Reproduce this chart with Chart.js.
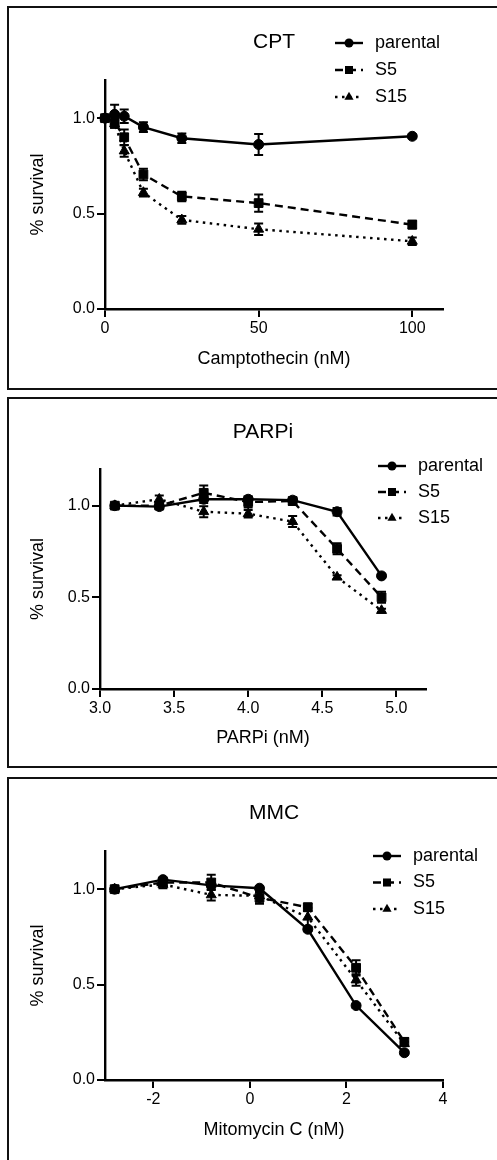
<!DOCTYPE html>
<html>
<head>
<meta charset="utf-8">
<title>Survival curves</title>
<script src="https://cdn.jsdelivr.net/npm/chart.js@4.4.1/dist/chart.umd.min.js"></script>
<style>
    html, body { margin: 0; padding: 0; background: #fff; overflow: hidden; }
    body { width: 497px; height: 1160px; position: relative; }
    .box { position: absolute; left: 7px; width: 530px; border: 2px solid #111; box-sizing: border-box; }
    canvas { position: absolute; left: 0; }
</style>
</head>
<body>
<div class="box" style="top:6px;height:384px"></div>
<div class="box" style="top:397px;height:371px"></div>
<div class="box" style="top:777px;height:420px"></div>
<canvas id="cpt" style="top:0" width="497" height="390"></canvas>
<canvas id="parp" style="top:390px" width="497" height="380"></canvas>
<canvas id="mmc" style="top:770px" width="497" height="390"></canvas>
<script>
var seriesNames = ["parental", "S5", "S15"];
var survivalTicks = [0, 0.5, 1.0];

// CPT
var cptDose = [0, 3.125, 6.25, 12.5, 25, 50, 100];
var cptParental = [1.00, 1.02, 1.01, 0.953, 0.895, 0.862, 0.905];
var cptS5 = [1.00, 0.98, 0.90, 0.705, 0.59, 0.555, 0.442];
var cptS15 = [1.00, 0.97, 0.828, 0.61, 0.467, 0.418, 0.355];
var cptParentalErr = [0, 0.05, 0.035, 0.025, 0.025, 0.055, 0.01];
var cptS5Err = [0, 0.03, 0.04, 0.03, 0.025, 0.045, 0.02];
var cptS15Err = [0, 0.02, 0.03, 0.02, 0.02, 0.03, 0.02];
var cptXTicks = [0, 50, 100];

// PARPi
var parpDose = [3.1, 3.4, 3.7, 4.0, 4.3, 4.6, 4.9];
var parpParental = [1.00, 0.995, 1.035, 1.035, 1.03, 0.967, 0.617];
var parpS5 = [1.00, 1.00, 1.07, 1.02, 1.025, 0.765, 0.50];
var parpS15 = [1.00, 1.035, 0.967, 0.956, 0.913, 0.61, 0.428];
var parpParentalErr = [0, 0.01, 0.02, 0.015, 0.01, 0.02, 0.01];
var parpS5Err = [0, 0.01, 0.04, 0.03, 0.02, 0.03, 0.03];
var parpS15Err = [0, 0.02, 0.03, 0.02, 0.03, 0.01, 0.01];
var parpXTicks = [3.0, 3.5, 4.0, 4.5, 5.0];

// MMC
var mmcDose = [-2.8, -1.8, -0.8, 0.2, 1.2, 2.2, 3.2];
var mmcParental = [1.00, 1.05, 1.02, 1.005, 0.79, 0.39, 0.143];
var mmcS5 = [1.00, 1.035, 1.035, 0.955, 0.905, 0.588, 0.20];
var mmcS15 = [1.00, 1.025, 0.97, 0.965, 0.853, 0.524, 0.19];
var mmcParentalErr = [0, 0.01, 0.01, 0.01, 0.01, 0.01, 0.01];
var mmcS5Err = [0, 0.02, 0.04, 0.03, 0.02, 0.04, 0.02];
var mmcS15Err = [0, 0.02, 0.03, 0.04, 0.05, 0.03, 0.01];
var mmcXTicks = [-2, 0, 2, 4];

Chart.defaults.font.family = "'Liberation Sans', Arial, Helvetica, sans-serif";
Chart.defaults.color = "#000";

var errorBarPlugin = {
    id: "errorBars",
    afterDatasetsDraw: function (chart) {
        var ctx = chart.ctx;
        var xs = chart.scales.x, ys = chart.scales.y;
        chart.data.datasets.forEach(function (ds) {
            if (!ds.err) return;
            ctx.save();
            ctx.strokeStyle = "#000";
            ctx.lineWidth = 2;
            ds.data.forEach(function (pt, j) {
                var e = ds.err[j];
                if (!e) return;
                var px = xs.getPixelForValue(pt.x);
                var top = ys.getPixelForValue(pt.y + e);
                var bot = ys.getPixelForValue(pt.y - e);
                ctx.beginPath();
                ctx.moveTo(px, top); ctx.lineTo(px, bot);
                ctx.moveTo(px - 4.5, top); ctx.lineTo(px + 4.5, top);
                ctx.moveTo(px - 4.5, bot); ctx.lineTo(px + 4.5, bot);
                ctx.stroke();
            });
            ctx.restore();
        });
    }
};

// legend with line + marker samples, like the prism ones
var keyPlugin = {
    id: "key",
    afterDraw: function (chart, args, opts) {
        var ctx = chart.ctx;
        chart.data.datasets.forEach(function (ds, i) {
            var y = opts.y + i * opts.gap;
            ctx.save();
            ctx.strokeStyle = "#000";
            ctx.lineWidth = ds.borderWidth;
            ctx.setLineDash(ds.borderDash);
            ctx.beginPath();
            ctx.moveTo(opts.x, y);
            ctx.lineTo(opts.x + 28, y);
            ctx.stroke();
            ctx.setLineDash([]);
            ctx.fillStyle = "#000";
            Chart.helpers.drawPoint(ctx, { pointStyle: ds.pointStyle, radius: ds.pointRadius - 0.5, rotation: 0, borderWidth: 0 }, opts.x + 14, y);
            ctx.font = "18px 'Liberation Sans', Arial, sans-serif";
            ctx.textBaseline = "middle";
            ctx.textAlign = "left";
            ctx.fillText(ds.label, opts.x + 40, y);
            ctx.restore();
        });
    }
};

function toPoints(xs, ys) {
    return xs.map(function (x, i) { return { x: x, y: ys[i] }; });
}

function survivalChart(id, p) {
    var styles = [
        { pointStyle: "circle", pointRadius: 5, borderDash: [] },
        { pointStyle: "rect", pointRadius: 6.2, borderDash: [8, 5] },
        { pointStyle: "triangle", pointRadius: 5.8, borderDash: [2.5, 4.5] }
    ];
    var datasets = p.ys.map(function (ys, i) {
        return {
            label: seriesNames[i],
            data: toPoints(p.x, ys),
            err: p.errs[i],
            pointStyle: styles[i].pointStyle,
            pointRadius: styles[i].pointRadius,
            borderDash: styles[i].borderDash,
            borderColor: "#000",
            backgroundColor: "#000",
            pointBackgroundColor: "#000",
            pointBorderColor: "#000",
            pointBorderWidth: 1,
            borderWidth: 2.4,
            tension: 0,
            fill: false,
            clip: false
        };
    });
    var axisGrid = { drawOnChartArea: false, color: "#000", lineWidth: 2, tickLength: 8 };
    var axisBorder = { color: "#000", width: 2.4 };
    return new Chart(document.getElementById(id).getContext("2d"), {
        type: "line",
        data: { datasets: datasets },
        plugins: [errorBarPlugin, keyPlugin],
        options: {
            responsive: false,
            animation: false,
            events: [],
            layout: { padding: { left: 20, right: p.padRight, top: 0, bottom: 0 } },
            plugins: {
                legend: { display: false },
                tooltip: { enabled: false },
                title: {
                    display: true,
                    text: p.title,
                    fullSize: false,
                    color: "#000",
                    font: { size: 21, weight: "normal" },
                    padding: { top: p.titleTop, bottom: p.titleBottom }
                },
                key: p.key
            },
            scales: {
                x: {
                    type: "linear",
                    min: p.xMin,
                    max: p.xMax,
                    afterBuildTicks: function (s) { s.ticks = p.xTicks.map(function (v) { return { value: v }; }); },
                    afterFit: function (s) { s.height = p.xAxisHeight; s.paddingLeft = 0; s.paddingRight = 0; },
                    ticks: { font: { size: 16 }, padding: 2, maxRotation: 0, autoSkip: false, callback: p.xLabel },
                    grid: axisGrid,
                    border: axisBorder,
                    title: { display: true, text: p.xTitle, font: { size: 18 }, padding: { top: 0, bottom: p.xTitleGap } }
                },
                y: {
                    min: 0,
                    max: 1.2,
                    afterBuildTicks: function (s) { s.ticks = survivalTicks.map(function (v) { return { value: v }; }); },
                    afterFit: function (s) { s.width = p.yAxisWidth; s.paddingTop = 0; s.paddingBottom = 0; },
                    ticks: { font: { size: 16 }, padding: 2, callback: function (v) { return v.toFixed(1); } },
                    grid: axisGrid,
                    border: axisBorder,
                    title: { display: true, text: "% survival", font: { size: 18 }, padding: { top: 7, bottom: 0 } }
                }
            }
        }
    });
}

survivalChart("cpt", {
    title: "CPT", xTitle: "Camptothecin (nM)",
    x: cptDose, ys: [cptParental, cptS5, cptS15], errs: [cptParentalErr, cptS5Err, cptS15Err],
    xMin: 0, xMax: 110, xTicks: cptXTicks,
    xLabel: function (v) { return String(v); },
    padRight: 54, yAxisWidth: 85, xAxisHeight: 81, xTitleGap: 20,
    titleTop: 29.4, titleBottom: 25.4,
    key: { x: 335, y: 43, gap: 27 }
});

survivalChart("parp", {
    title: "PARPi", xTitle: "PARPi (nM)",
    x: parpDose, ys: [parpParental, parpS5, parpS15], errs: [parpParentalErr, parpS5Err, parpS15Err],
    xMin: 3.0, xMax: 5.2, xTicks: parpXTicks,
    xLabel: function (v) { return v.toFixed(1); },
    padRight: 71, yAxisWidth: 80, xAxisHeight: 81, xTitleGap: 21,
    titleTop: 29.4, titleBottom: 24.4,
    key: { x: 378, y: 76, gap: 26 }
});

survivalChart("mmc", {
    title: "MMC", xTitle: "Mitomycin C (nM)",
    x: mmcDose, ys: [mmcParental, mmcS5, mmcS15], errs: [mmcParentalErr, mmcS5Err, mmcS15Err],
    xMin: -3, xMax: 4, xTicks: mmcXTicks,
    xLabel: function (v) { return String(v); },
    padRight: 54, yAxisWidth: 85, xAxisHeight: 80, xTitleGap: 19,
    titleTop: 30.4, titleBottom: 25.4,
    key: { x: 373, y: 86, gap: 26.5 }
});
</script>
</body>
</html>
